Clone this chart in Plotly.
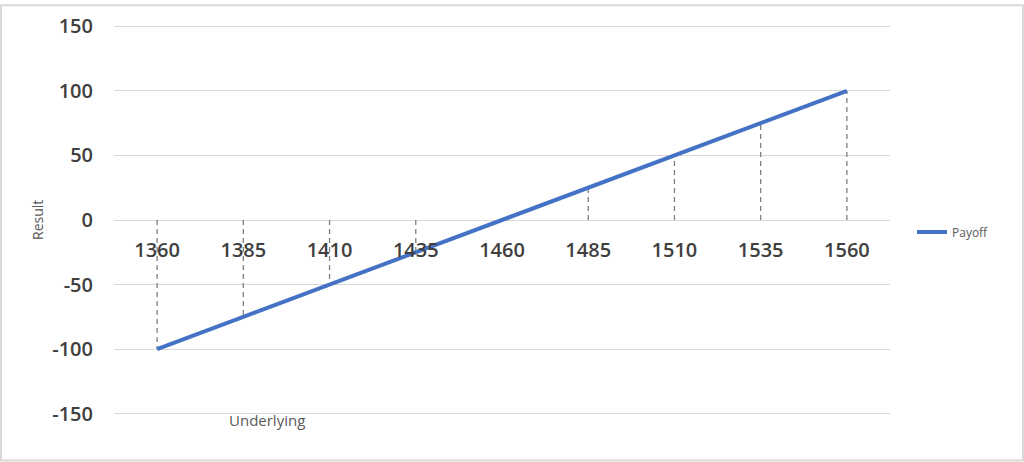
import plotly.graph_objects as go

underlying = [1360, 1385, 1410, 1435, 1460, 1485, 1510, 1535, 1560]
payoff = [-100, -75, -50, -25, 0, 25, 50, 75, 100]
y_ticks = [-150, -100, -50, 0, 50, 100, 150]
series_name = "Payoff"
x_title = "Underlying"
y_title = "Result"

W, H = 1024, 462
L, R, T, B = 114, 134, 21, 47
pw, ph = W - L - R, H - T - B

def px_x(p):
    return (p - L) / pw

def px_y(p):
    return (H - B - p) / ph

# drop lines from each point to the zero axis
dx, dy = [], []
for xv, yv in zip(underlying, payoff):
    dx += [xv, xv, None]
    dy += [0, yv, None]

fig = go.Figure()
fig.add_trace(go.Scatter(x=dx, y=dy, mode="lines", showlegend=False, hoverinfo="skip",
                         line=dict(color="#7f7f7f", width=1.3, dash="5px,4px")))
fig.add_trace(go.Scatter(x=underlying, y=payoff, mode="lines", name=series_name,
                         line=dict(color="#4472C4", width=4)))

tickfont = dict(family="Open Sans", size=20, color="#404040", weight=600)

fig.update_layout(
    width=W, height=H,
    margin=dict(l=L, r=R, t=T, b=B),
    paper_bgcolor="white", plot_bgcolor="white",
    font=dict(family="Open Sans", color="#595959"),
    xaxis=dict(range=[underlying[0] - 12.5, underlying[-1] + 12.5],
               tickvals=underlying, ticktext=[str(v) for v in underlying],
               anchor="free", position=0.5, showgrid=False, zeroline=False,
               showline=False, ticks="", tickfont=tickfont, ticklabelstandoff=16),
    yaxis=dict(range=[-151, 151], tickvals=y_ticks, ticktext=[str(v) for v in y_ticks],
               showgrid=True, gridcolor="#d9d9d9", gridwidth=1, zeroline=True,
               zerolinecolor="#d9d9d9", zerolinewidth=1, showline=False, ticks="",
               tickfont=tickfont, ticklabelstandoff=20),
    legend=dict(x=px_x(912), y=px_y(230), xanchor="left", yanchor="middle",
                font=dict(family="Open Sans", size=12, color="#595959"),
                bgcolor="rgba(0,0,0,0)"),
    showlegend=True,
)

fig.add_annotation(text=y_title, xref="paper", yref="paper", x=px_x(37), y=px_y(218),
                   xanchor="center", yanchor="middle", showarrow=False, textangle=-90,
                   font=dict(family="Open Sans", size=14, color="#595959"))
fig.add_annotation(text=x_title, xref="paper", yref="paper", x=px_x(267), y=px_y(420),
                   xanchor="center", yanchor="middle", showarrow=False,
                   font=dict(family="Open Sans", size=15, color="#595959"))

fig.add_shape(type="rect", xref="paper", yref="paper",
              x0=px_x(1), x1=px_x(1023), y0=px_y(461), y1=px_y(1),
              line=dict(color="#d9d9d9", width=2), layer="below")

fig.write_html("out.html", config={"displayModeBar": False},
               post_script="document.body.style.margin='0px';document.body.style.overflow='hidden';")
